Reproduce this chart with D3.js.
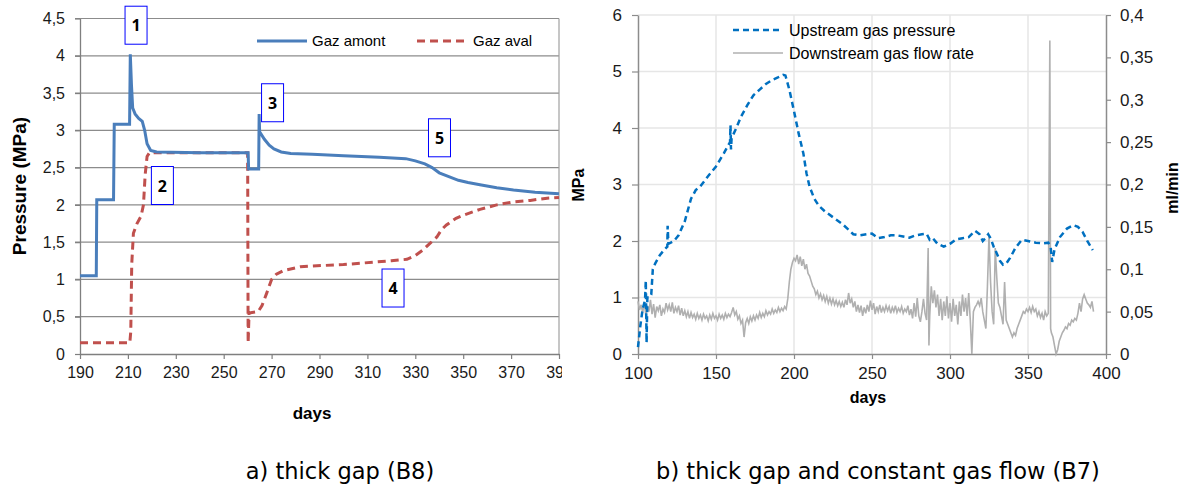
<!DOCTYPE html>
<html><head><meta charset="utf-8">
<script src="https://cdn.jsdelivr.net/npm/d3@7"></script>
<style>body{margin:0;background:#fff}svg{display:block}</style>
</head><body>
<svg id="c" width="1186" height="487"></svg>
<script>
// ---------- Chart a) data ----------
const aXTicks = [190,210,230,250,270,290,310,330,350,370,390];
const aYTicks = [0,0.5,1,1.5,2,2.5,3,3.5,4,4.5];
const aSeriesNames = ["Gaz amont","Gaz aval"];
const gazAmontDays = [190,196.8,197,204,204.3,210.7,211,211.5,212,213,214.5,216,217,218,219.5,222,240,260.2,260.4,264.6,264.8,265,267,269,271,274,278,287,300,315,326,330,334,337,340,344,348,352,357,364,371,380,390];
const gazAmontVals = [1.05,1.05,2.07,2.07,3.08,3.08,4.02,3.6,3.3,3.22,3.16,3.12,3.0,2.82,2.73,2.71,2.7,2.7,2.48,2.48,3.22,2.98,2.88,2.8,2.75,2.71,2.69,2.68,2.66,2.64,2.62,2.59,2.55,2.5,2.43,2.38,2.33,2.3,2.27,2.23,2.2,2.17,2.15];
const gazAvalDays = [190,210.8,211.2,211.6,212.3,213.8,215.5,216.5,217.2,218,219,230,260,260.2,260.6,264.4,266,268,270,272,275,282,287,300,308,320,326.5,330,333,336,339,341,343,347,350,357,364,371,378,385,390];
const gazAvalVals = [0.15,0.15,0.3,1.2,1.62,1.75,1.85,2.0,2.4,2.65,2.7,2.7,2.7,0.15,0.55,0.57,0.65,0.82,1.0,1.07,1.12,1.17,1.18,1.2,1.22,1.25,1.27,1.32,1.39,1.48,1.57,1.67,1.73,1.82,1.86,1.94,2.0,2.04,2.06,2.09,2.1];
const aLabels = ["1","2","3","4","5"];
const aLabelDays = [213.4,224.4,270.4,320.7,340.1];
const aLabelVals = [4.41,2.26,3.37,0.885,2.9];

// ---------- Chart b) data ----------
const bXTicks = [100,150,200,250,300,350,400];
const bYTicks = [0,1,2,3,4,5,6];
const bY2Ticks = [0,0.05,0.1,0.15,0.2,0.25,0.3,0.35,0.4];
const bSeriesNames = ["Upstream gas pressure","Downstream gas flow rate"];
const upDays = [100,101.5,103,104.5,105,105.5,106,107.5,108.5,109.5,111,114,117,118.8,119,119.5,121,123,126,130,134,137,140,145,150,155,159,159.3,159.6,160,163,166,170,174,178,182,186,190,193,194.5,197,200,203,206,208,210,213,216,220,226,231,235,238,242,247,250,254,258,262,266,270,274,278,282,285,287,289,292,296,300,304,308,312,316,319,321,323,324.5,326,328,330,332,334,336,338.5,342,346,350,355,360,363,364.5,365.5,367,370.5,375,379,382,385,388,391.5];
const upVals = [0.12,0.5,0.8,0.95,1.3,0.2,1.0,1.0,1.05,1.5,1.6,1.75,1.85,1.9,2.27,1.95,1.97,2.0,2.1,2.35,2.75,2.9,2.97,3.15,3.32,3.55,3.75,4.05,3.62,3.82,4.0,4.2,4.4,4.58,4.68,4.78,4.85,4.9,4.94,4.93,4.68,4.3,3.9,3.55,3.2,2.96,2.75,2.62,2.52,2.4,2.3,2.2,2.12,2.1,2.12,2.13,2.05,2.07,2.1,2.1,2.08,2.06,2.1,2.12,2.13,2.02,2.05,1.95,1.9,1.95,2.03,2.05,2.07,2.18,2.12,2.0,2.06,2.12,2.05,1.9,1.78,1.65,1.58,1.6,1.7,1.88,2.02,2.0,1.97,1.96,1.97,1.9,1.63,1.85,2.07,2.22,2.28,2.25,2.16,2.0,1.84];
const flowDays = [100,101,102,103,104,105,106,107,108,109,110,111,112,113,114,115,116,117,118,119,120,121,122,123,124,125,126,127,128,129,130,131,132,133,134,135,136,137,138,139,140,141,142,143,144,145,146,147,148,149,150,151,152,153,154,155,156,157,158,159,160,161,162,163,164,165,166,167,168,169,170,171,172,173,174,175,176,177,178,179,180,181,182,183,184,185,186,187,188,189,190,191,192,193,194,195,196,197,198,199,200,201,202,203,204,205,206,207,208,209,210,211,212,213,214,215,216,217,218,219,220,221,222,223,224,225,226,227,228,229,230,231,232,233,234,235,236,237,238,239,240,241,242,243,244,245,246,247,248,249,250,251,252,253,254,255,256,257,258,259,260,261,262,263,264,265,266,267,268,269,270,271,272,273,274,275,276,277,278,279,280,281,282,283,284,285,286,286.5,287,288,289,290,291,292,293,294,295,296,297,298,299,300,301,302,303,304,305,306,307,308,309,310,311,312,313,314,315,316,317,318,319,320,321,322,323,324,325,326,327,328,329,330,331,332,333,334,335,336,337,338,339,340,341,342,343,344,345,346,347,348,349,350,351,352,353,354,355,356,357,358,359,360,361,362,363,364,364.5,365,366,367,368,369,370,371,372,373,374,375,376,377,378,379,380,381,382,383,384,385,386,387,388,389,390,391,392];
const flowVals = [.062,.052,.058,.049,.061,.046,.057,.05,.064,.047,.059,.043,.056,.051,.058,.045,.053,.049,.06,.052,.058,.05,.061,.048,.055,.05,.057,.046,.054,.045,.051,.044,.05,.042,.049,.043,.047,.041,.048,.042,.046,.04,.047,.042,.045,.039,.046,.041,.048,.042,.045,.04,.047,.042,.046,.041,.048,.043,.047,.044,.049,.055,.046,.05,.041,.045,.036,.04,.02,.037,.042,.036,.044,.039,.045,.04,.046,.042,.049,.043,.048,.044,.051,.046,.05,.047,.053,.048,.052,.049,.055,.05,.054,.051,.056,.053,.065,.085,.1,.108,.113,.11,.117,.106,.115,.104,.112,.1,.106,.095,.092,.086,.08,.077,.07,.074,.066,.071,.064,.069,.062,.068,.06,.066,.059,.065,.058,.063,.057,.062,.056,.061,.055,.064,.058,.072,.06,.065,.055,.062,.05,.058,.049,.057,.045,.055,.048,.058,.05,.063,.052,.06,.047,.056,.05,.058,.049,.055,.05,.057,.051,.056,.048,.055,.05,.057,.049,.054,.05,.056,.048,.053,.05,.057,.046,.053,.042,.06,.044,.066,.045,.038,.05,.065,.048,.04,.125,.01,.045,.08,.06,.075,.055,.07,.045,.065,.04,.062,.045,.068,.042,.06,.038,.065,.045,.058,.035,.062,.045,.07,.05,.066,.045,.072,.04,0,.05,.055,.058,.062,.057,.066,.05,.04,.03,.08,.14,.085,.05,.035,.125,.09,.06,.055,.045,.035,.085,.04,.035,.03,.025,.02,.025,.022,.03,.035,.04,.045,.05,.048,.053,.05,.055,.049,.056,.05,.053,.045,.05,.043,.048,.04,.05,.045,.048,.37,.03,.025,.02,.01,0,.005,.015,.02,.025,.028,.032,.03,.036,.034,.04,.038,.042,.04,.048,.06,.05,.065,.07,.065,.06,.058,.055,.062,.05];

const captions = ["a) thick gap (B8)","b) thick gap and constant gas flow (B7)"];

// ---------- drawing ----------
const svg = d3.select("#c");
const fmt = d => String(d).replace(".", ",");
const AF = "'Liberation Sans', Arial, sans-serif";

// ===== Chart a =====
svg.append("defs").append("clipPath").attr("id","clipA")
  .append("rect").attr("x",0).attr("y",0).attr("width",562).attr("height",440);
const gA = svg.append("g").attr("clip-path","url(#clipA)");
const xa = d3.scaleLinear().domain([190,390]).range([80,559]);
const ya = d3.scaleLinear().domain([0,4.5]).range([354,18.5]);

gA.append("g").selectAll("line").data(aYTicks.filter(d=>d>0)).join("line")
  .attr("x1",75).attr("x2",559).attr("y1",d=>ya(d)).attr("y2",d=>ya(d))
  .attr("stroke","#8c8c8c").attr("stroke-width",1.2);
gA.append("line").attr("x1",559).attr("x2",559).attr("y1",ya(4.5)).attr("y2",ya(0))
  .attr("stroke","#a0a0a0").attr("stroke-width",1.2);
const axA = gA.append("g").attr("transform","translate(0,354)")
  .call(d3.axisBottom(xa).tickValues(aXTicks).tickSize(5).tickSizeOuter(0).tickPadding(8).tickFormat(d=>d));
const ayA = gA.append("g").attr("transform","translate(80,0)")
  .call(d3.axisLeft(ya).tickValues(aYTicks).tickSize(5).tickSizeOuter(0).tickPadding(10).tickFormat(fmt));
[axA,ayA].forEach(a=>{
  a.select(".domain").attr("stroke","#7f7f7f").attr("stroke-width",1.3);
  a.selectAll(".tick line").attr("stroke","#7f7f7f").attr("stroke-width",1.2);
  a.selectAll("text").attr("font-family",AF).attr("font-size",16).attr("fill","#1a1a1a");
});
const la = d3.line().x(d=>xa(d[0])).y(d=>ya(d[1]));
gA.append("path").datum(gazAvalDays.map((d,i)=>[d,gazAvalVals[i]]))
  .attr("d",la).attr("fill","none").attr("stroke","#c0504d").attr("stroke-width",3)
  .attr("stroke-dasharray","8,5");
gA.append("path").datum(gazAmontDays.map((d,i)=>[d,gazAmontVals[i]]))
  .attr("d",la).attr("fill","none").attr("stroke","#4a7ebb").attr("stroke-width",3);
aLabels.forEach((t,i)=>{
  const cx = xa(aLabelDays[i]), cy = ya(aLabelVals[i]);
  gA.append("rect").attr("x",cx-11).attr("y",cy-19).attr("width",22).attr("height",38)
    .attr("fill","#fff").attr("stroke","#0000ff").attr("stroke-width",1);
  gA.append("text").attr("x",cx).attr("y",cy+6).attr("text-anchor","middle")
    .attr("font-family","'Open Sans', sans-serif").attr("font-weight","bold").attr("font-size",16)
    .text(t);
});
const legA = gA.append("g");
legA.append("line").attr("x1",257).attr("x2",307).attr("y1",41).attr("y2",41)
  .attr("stroke","#4a7ebb").attr("stroke-width",3);
legA.append("text").attr("x",312).attr("y",46).attr("font-family",AF).attr("font-size",15).text(aSeriesNames[0]);
legA.append("line").attr("x1",417).attr("x2",467).attr("y1",41).attr("y2",41)
  .attr("stroke","#c0504d").attr("stroke-width",3).attr("stroke-dasharray","8,5");
legA.append("text").attr("x",473).attr("y",46).attr("font-family",AF).attr("font-size",15).text(aSeriesNames[1]);
gA.append("text").attr("transform","translate(26,186) rotate(-90)").attr("text-anchor","middle")
  .attr("font-family",AF).attr("font-weight","bold").attr("font-size",19).text("Pressure (MPa)");
gA.append("text").attr("x",312).attr("y",419).attr("text-anchor","middle")
  .attr("font-family",AF).attr("font-weight","bold").attr("font-size",17).text("days");

// ===== Chart b =====
const gB = svg.append("g");
const xb = d3.scaleLinear().domain([100,400]).range([638,1106]);
const yb = d3.scaleLinear().domain([0,6]).range([354,15]);
const yb2 = d3.scaleLinear().domain([0,0.4]).range([354,15]);
gB.append("g").selectAll("line").data(bYTicks.filter(d=>d>0)).join("line")
  .attr("x1",638).attr("x2",1106).attr("y1",d=>yb(d)).attr("y2",d=>yb(d))
  .attr("stroke","#e6e6e6").attr("stroke-width",1.5);
gB.append("g").selectAll("line").data(bXTicks.filter(d=>d>100&&d<400)).join("line")
  .attr("x1",d=>xb(d)).attr("x2",d=>xb(d)).attr("y1",15).attr("y2",354)
  .attr("stroke","#e6e6e6").attr("stroke-width",1.5);
const axB = gB.append("g").attr("transform","translate(0,354)")
  .call(d3.axisBottom(xb).tickValues(bXTicks).tickSize(5).tickSizeOuter(0).tickPadding(8).tickFormat(d=>d));
const ayB = gB.append("g").attr("transform","translate(638,0)")
  .call(d3.axisLeft(yb).tickValues(bYTicks).tickSize(6).tickSizeOuter(0).tickPadding(10).tickFormat(fmt));
const ay2B = gB.append("g").attr("transform","translate(1106,0)")
  .call(d3.axisRight(yb2).tickValues(bY2Ticks).tickSize(5).tickSizeOuter(0).tickPadding(9).tickFormat(fmt));
[axB,ayB,ay2B].forEach(a=>{
  a.select(".domain").attr("stroke","#8c8c8c").attr("stroke-width",1.5);
  a.selectAll(".tick line").attr("stroke","#8c8c8c").attr("stroke-width",1.2);
  a.selectAll("text").attr("font-family",AF).attr("font-size",17).attr("fill","#1a1a1a");
});
gB.append("path").datum(flowDays.map((d,i)=>[d,flowVals[i]]))
  .attr("d",d3.line().x(d=>xb(d[0])).y(d=>yb2(d[1])))
  .attr("fill","none").attr("stroke","#b0b0b0").attr("stroke-width",1.6);
gB.append("path").datum(upDays.map((d,i)=>[d,upVals[i]]))
  .attr("d",d3.line().x(d=>xb(d[0])).y(d=>yb(d[1])))
  .attr("fill","none").attr("stroke","#0070c0").attr("stroke-width",2.5).attr("stroke-dasharray","6,4");
gB.append("line").attr("x1",733).attr("x2",783).attr("y1",30).attr("y2",30)
  .attr("stroke","#0070c0").attr("stroke-width",2.5).attr("stroke-dasharray","6,4");
gB.append("text").attr("x",789).attr("y",36).attr("font-family",AF).attr("font-size",16).text(bSeriesNames[0]);
gB.append("line").attr("x1",733).attr("x2",783).attr("y1",53).attr("y2",53)
  .attr("stroke","#b0b0b0").attr("stroke-width",1.5);
gB.append("text").attr("x",789).attr("y",59).attr("font-family",AF).attr("font-size",16).text(bSeriesNames[1]);
gB.append("text").attr("transform","translate(584,185) rotate(-90)").attr("text-anchor","middle")
  .attr("font-family",AF).attr("font-weight","bold").attr("font-size",16).text("MPa");
gB.append("text").attr("transform","translate(1178,188) rotate(-90)").attr("text-anchor","middle")
  .attr("font-family",AF).attr("font-weight","bold").attr("font-size",16).text("ml/min");
gB.append("text").attr("x",868).attr("y",403).attr("text-anchor","middle")
  .attr("font-family",AF).attr("font-weight","bold").attr("font-size",16).text("days");

// captions
svg.append("text").attr("x",340).attr("y",479).attr("text-anchor","middle")
  .attr("font-family","'DejaVu Sans',sans-serif").attr("font-size",22.5).text(captions[0]);
svg.append("text").attr("x",878).attr("y",479).attr("text-anchor","middle")
  .attr("font-family","'DejaVu Sans',sans-serif").attr("font-size",22.5).text(captions[1]);
</script>
</body></html>
